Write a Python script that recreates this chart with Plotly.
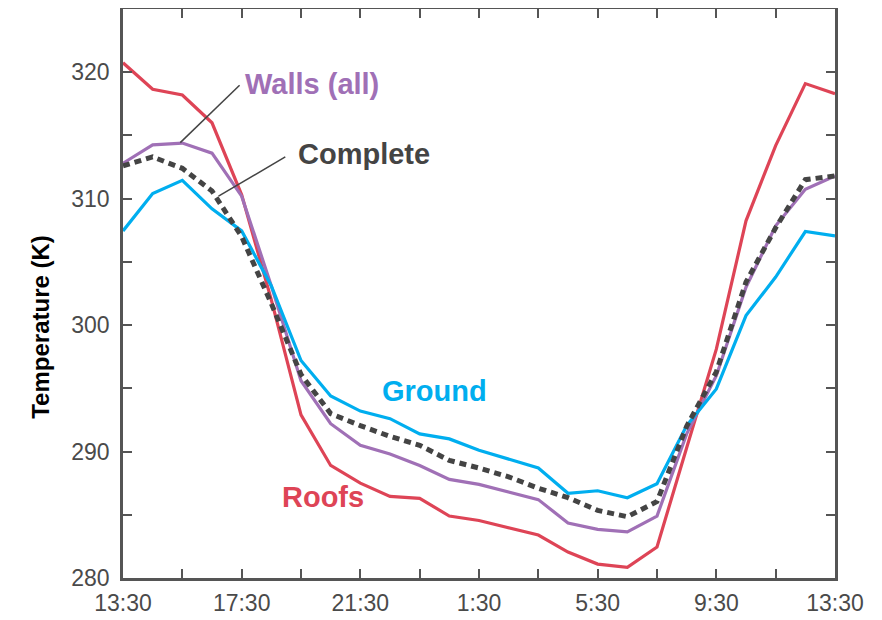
import plotly.graph_objects as go

hours = list(range(25))
tick_vals_x = [0, 2, 4, 6, 8, 10, 12, 14, 16, 18, 20, 22, 24]
tick_text_x = ["13:30", "", "17:30", "", "21:30", "", "1:30", "", "5:30", "", "9:30", "", "13:30"]
tick_vals_y = [280, 285, 290, 295, 300, 305, 310, 315, 320]
tick_text_y = ["280", "", "290", "", "300", "", "310", "", "320"]

roofs = [320.75, 318.65, 318.2, 316.0, 310.3, 302.0, 292.9, 288.9, 287.5, 286.45,
         286.3, 284.9, 284.55, 284.0, 283.4, 282.05, 281.1, 280.85, 282.45, 290.3,
         298.1, 308.25, 314.2, 319.1, 318.3]
walls = [312.8, 314.25, 314.4, 313.6, 310.2, 303.1, 295.6, 292.2, 290.5, 289.8,
         288.9, 287.8, 287.4, 286.8, 286.2, 284.35, 283.85, 283.65, 284.9, 291.4,
         296.0, 303.0, 307.85, 310.75, 311.8]
ground = [307.45, 310.4, 311.45, 309.2, 307.45, 303.1, 297.2, 294.4, 293.2, 292.6,
          291.4, 291.0, 290.1, 289.4, 288.7, 286.7, 286.9, 286.35, 287.45, 292.05,
          294.95, 300.75, 303.8, 307.4, 307.05]
complete = [312.6, 313.3, 312.4, 310.6, 307.0, 301.7, 296.1, 293.0, 292.05, 291.2,
            290.5, 289.3, 288.7, 288.0, 287.1, 286.35, 285.35, 284.85, 286.05, 292.0,
            296.3, 303.4, 307.7, 311.5, 311.8]

RED = "#DE4456"
PURPLE = "#A070B6"
BLUE = "#00AEEF"
DARK = "#444444"
AXIS = "#555555"

fig = go.Figure()
fig.add_trace(go.Scatter(x=hours, y=roofs, mode="lines", line=dict(color=RED, width=3.2), name="Roofs"))
fig.add_trace(go.Scatter(x=hours, y=walls, mode="lines", line=dict(color=PURPLE, width=3.2), name="Walls (all)"))
fig.add_trace(go.Scatter(x=hours, y=ground, mode="lines", line=dict(color=BLUE, width=3.2), name="Ground"))
fig.add_trace(go.Scatter(x=hours, y=complete, mode="lines",
                         line=dict(color=DARK, width=5, dash="7px,5px"), name="Complete"))

label_font = "Liberation Sans, Arial, sans-serif"
fig.add_annotation(x=4.06, y=319.1, text="<b>Walls (all)</b>", showarrow=False, xanchor="left",
                   yanchor="middle", font=dict(family=label_font, size=29, color=PURPLE))
fig.add_annotation(x=5.82, y=313.5, text="<b>Complete</b>", showarrow=False, xanchor="left",
                   yanchor="middle", font=dict(family=label_font, size=29, color=DARK))
fig.add_annotation(x=8.67, y=294.8, text="<b>Ground</b>", showarrow=False, xanchor="left",
                   yanchor="middle", font=dict(family=label_font, size=29, color=BLUE))
fig.add_annotation(x=5.3, y=286.4, text="<b>Roofs</b>", showarrow=False, xanchor="left",
                   yanchor="middle", font=dict(family=label_font, size=29, color=RED))

fig.add_shape(type="line", x0=3.93, y0=318.97, x1=1.93, y1=314.43, line=dict(color=DARK, width=1.5))
fig.add_shape(type="line", x0=5.47, y0=313.3, x1=3.22, y1=310.2, line=dict(color=DARK, width=1.5))

fig.add_annotation(xref="paper", yref="paper", x=-0.117, y=0.441, text="<b>Temperature (K)</b>",
                   textangle=-90, showarrow=False, xanchor="center", yanchor="middle",
                   font=dict(family=label_font, size=24, color="#000000"))

axis_common = dict(showline=True, linecolor=AXIS, linewidth=2.5, mirror="ticks", ticks="inside",
                   ticklen=9, tickwidth=2, tickcolor=AXIS, showgrid=False, zeroline=False,
                   tickfont=dict(family=label_font, size=23, color="#4a4a4a"))
fig.update_xaxes(range=[0, 24], tickmode="array", tickvals=tick_vals_x, ticktext=tick_text_x,
                 ticklabelstandoff=3, **axis_common)
fig.update_yaxes(range=[280, 325], tickmode="array", tickvals=tick_vals_y, ticktext=tick_text_y,
                 ticklabelstandoff=6, **axis_common)

fig.update_layout(width=874, height=612, margin=dict(l=115, r=47, t=1, b=42, autoexpand=False),
                  plot_bgcolor="white", paper_bgcolor="white", showlegend=False)

fig.write_html("out.html")
